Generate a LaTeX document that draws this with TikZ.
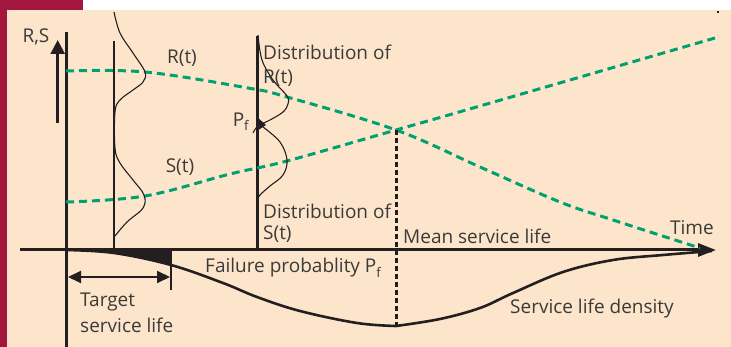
\documentclass[tikz,border=0pt]{standalone}
\usepackage{fontspec}
\setmainfont{Open Sans}
\usetikzlibrary{arrows.meta,positioning}
\definecolor{Peach}{HTML}{FDE5CB}
\definecolor{Crimson}{HTML}{A3173E}
\definecolor{Sea}{HTML}{00A070}
\definecolor{Ink}{HTML}{231F20}
\definecolor{Slate}{HTML}{3A3A3A}

\begin{document}
\begin{tikzpicture}[x=1pt,y=-1pt,
  lbl/.style={font=\fontsize{19}{21}\selectfont,text=Slate,inner sep=0pt},
  trend/.style={Sea,line width=3pt,dash pattern=on 8pt off 5pt},
  axis/.style={Ink,line width=3pt},
  dist/.style={Ink,line width=1.1pt}]
  \useasboundingbox (0,0) rectangle (731,347);
  % frame
  \fill[white] (0,0) rectangle (731,347);
  \fill[Crimson] (0,0) rectangle (83,10);
  \fill[Crimson] (0,0) rectangle (7,347);
  \fill[Peach] (7,10) rectangle (731,347);
  \fill[Ink] (717,11) rectangle (719,13);
  % key points
  \coordinate (O) at (66,250);
  \coordinate (xend) at (716,250);
  \coordinate (xstart) at (20,250);
  \coordinate (ytop) at (66,32);
  \coordinate (ybot) at (66,347);
  \coordinate (target) at (171,250);
  \coordinate (cross) at (396,130);
  \coordinate (mean) at (396,326);
  % failure area
  \begin{scope}
    \clip (66,245) rectangle (target |- 0,300);
    \fill[Ink] (O) plot[smooth,tension=.6] coordinates {(66,250) (114,253) (171,265) (223,283) (257,297) (300,311) (357,323) (396,326)} -- (396,250) -- cycle;
  \end{scope}
  % density
  \draw[Ink,line width=2.6pt] plot[smooth,tension=.6] coordinates {(66,250) (114,253) (171,265) (223,283) (257,297) (300,311) (357,323) (396,326)};
  \draw[Ink,line width=2.6pt] plot[smooth,tension=.6] coordinates {(396,326) (440,319) (480,308) (513,293) (563,272) (613,260) (663,255) (712,251)};
  % axes
  \draw[axis] (ytop) -- (ybot);
  \draw[axis,-{Triangle[length=18pt,width=13pt]}] (xstart) -- (xend);
  \draw[Ink,line width=2.5pt,-{Triangle[length=14pt,width=14pt]}] (57.7,123) -- (57.7,40);
  \draw[Ink,line width=2pt] (114,41) -- (114,250);
  \draw[axis] (257,36) -- (257,250);
  % trends
  \draw[trend] plot[smooth,tension=.6] coordinates {(66,71) (145,72) (248,88) (287,97) (396,130) (480,167) (560,202) (613,220) (700,248)};
  \draw[trend] plot[smooth,tension=.6] coordinates {(66,202) (145,196) (230,174) (287,161) (396,130) (480,106) (715,38)};
  \draw[Ink,line width=3pt,dash pattern=on 5pt off 3pt] (cross) -- (mean);
  % distributions
  \draw[dist] plot[smooth,tension=.6] coordinates {(114,12) (120,33) (133,53) (145,72) (143,82) (133,90) (120,100) (115,112) (115,148) (120,163) (133,180) (144,195) (143,208) (127,222) (115,236)};
  \draw[dist] plot[smooth,tension=.6] coordinates {(258,35) (262,60) (273,80) (287,96) (288,104) (283,112) (270,120) (258,126) (253,133)};
  \draw[dist] plot[smooth,tension=.6] coordinates {(263,127) (280,142) (287,160) (283,175) (270,186) (260,195) (257,201)};
  \fill[Ink] (257,117) -- (266,125) -- (257,131) -- cycle;
  % target service life
  \draw[Ink,line width=2pt] (target) -- (171,290);
  \draw[Ink,line width=2pt,{Triangle[length=13pt,width=12pt]}-{Triangle[length=13pt,width=12pt]}] (68,277) -- (170,277);
  % labels
  \node[lbl] (rs) at (36,37) {R,S};
  \node[lbl] (rt) at (182,58) {R(t)};
  \node[lbl] (st) at (180,167) {S(t)};
  \node[lbl,anchor=west] (distr) at (263,52) {Distribution of};
  \node[lbl,anchor=west] (distrr) at (263,78) {R(t)};
  \node[lbl] (pf) at (241,122) {P\textsubscript{f}};
  \node[lbl,anchor=west] (dists) at (263,211) {Distribution of};
  \node[lbl,anchor=west] (distss) at (263,234) {S(t)};
  \node[lbl,anchor=west] (meanlbl) at (403,236) {Mean service life};
  \node[lbl] (time) at (692,228) {Time};
  \node[lbl,anchor=west] (fail) at (205,268) {Failure probablity P\textsubscript{f}};
  \node[lbl,anchor=west] (tgt) at (80,302) {Target};
  \node[lbl,anchor=west] (tgtlife) at (80,325) {service life};
  \node[lbl,anchor=west] (dens) at (510,309) {Service life density};
\end{tikzpicture}
\end{document}
